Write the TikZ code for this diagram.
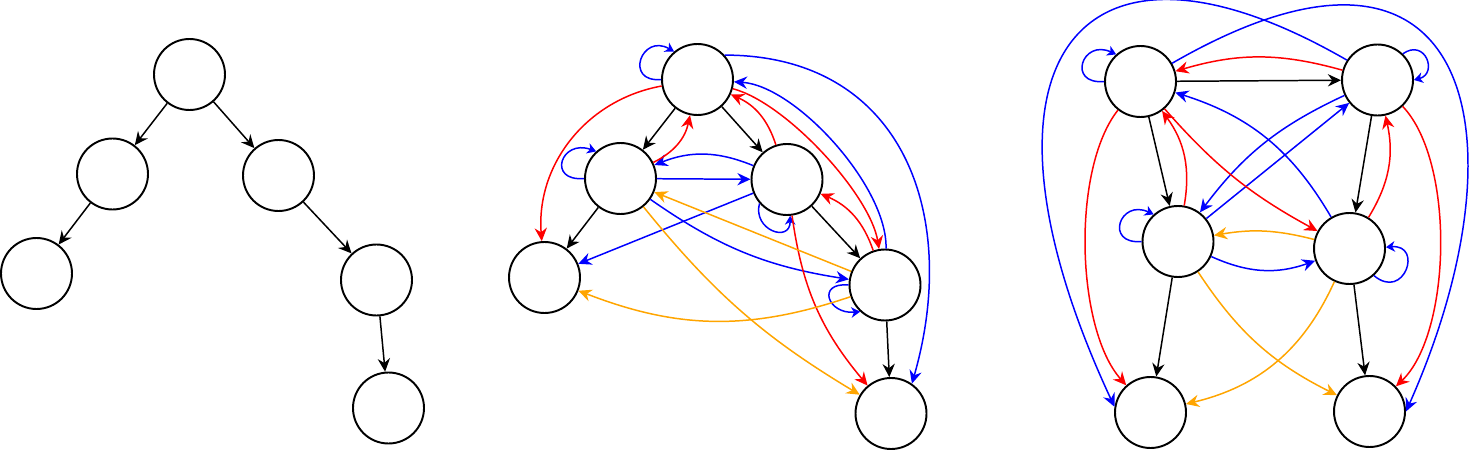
\documentclass[tikz,border=0pt]{standalone}
\usetikzlibrary{arrows.meta}

\definecolor{amber}{RGB}{255,165,0}

\begin{document}
\begin{tikzpicture}[
    vertex/.style={circle, draw, line width=1.1pt, minimum size=1.42cm, inner sep=0pt},
    link/.style={-{Stealth[length=7.5pt, width=7pt, inset=2.5pt]}, line width=0.85pt},
    selfloop/.style={-{Stealth[length=5pt, width=6pt, inset=1.5pt]}, line width=0.85pt, blue},
]

    \useasboundingbox (0,0) rectangle (29.42,9);

    %% Tree and the two graphs

    % Tree
    \begin{scope}
        % Vertices
        \node[vertex] (root) at (3.79,7.51) {};
        \node[vertex] (l) at (2.25,5.52) {};
        \node[vertex] (r) at (5.57,5.49) {};
        \node[vertex] (ll) at (0.73,3.53) {};
        \node[vertex] (rr) at (7.53,3.40) {};
        \node[vertex] (rrr) at (7.77,0.84) {};

        % Edges
        \draw[link] (root) -- (l);
        \draw[link] (root) -- (r);
        \draw[link] (l) -- (ll);
        \draw[link] (r) -- (rr);
        \draw[link] (rr) -- (rrr);
    \end{scope}

    % First graph
    \begin{scope}
        % Vertices
        \node[vertex] (ga) at (13.95,7.41) {};
        \node[vertex] (gb) at (12.41,5.43) {};
        \node[vertex] (gc) at (15.74,5.41) {};
        \node[vertex] (gd) at (10.89,3.45) {};
        \node[vertex] (ge) at (17.70,3.30) {};
        \node[vertex] (gf) at (17.82,0.73) {};

        % Tree edges
        \draw[link] (ga) -- (gb);
        \draw[link] (ga) -- (gc);
        \draw[link] (gb) -- (gd);
        \draw[link] (gc) -- (ge);
        \draw[link] (ge) -- (gf);

        % Self loops
        \draw[selfloop] (ga.180) .. controls +(185:0.75) and +(150:0.75) .. (ga.130);
        \draw[selfloop] (gb.180) .. controls +(185:0.75) and +(160:0.75) .. (gb.132);
        \draw[selfloop] (gc.221) .. controls +(255:0.55) and +(270:0.55) .. (gc.275);
        \draw[selfloop] (ge.180) .. controls +(175:0.65) and +(185:0.65) .. (ge.227);

        % Blue edges
        \draw[link, blue] (ga.42) to[out=0, in=74, looseness=1.2] (gf.55);
        \draw[link, blue] (ge) to[bend right=44, looseness=0.7] (ga);
        \draw[link, blue] (gb) -- (gc);
        \draw[link, blue] (gc) to[bend right=22] (gb);
        \draw[link, blue] (gc) -- (gd);
        \draw[link, blue] (gb) to[bend right=13] (ge);

        % Red edges
        \draw[link, red] (ga) to[bend right=42] (gd);
        \draw[link, red] (gb) to[bend right=26] (ga);
        \draw[link, red] (gc) to[bend right=24] (ga);
        \draw[link, red] (ga) to[bend left=33, looseness=0.65] (ge);
        \draw[link, red] (ge) to[bend right=24] (gc);
        \draw[link, red] (gc) to[bend right=16] (gf);

        % Orange edges
        \draw[link, amber] (ge) -- (gb);
        \draw[link, amber] (ge) to[bend left=20] (gd);
        \draw[link, amber] (gb) to[bend right=10] (gf);
    \end{scope}

    % Second graph
    \begin{scope}
        % Vertices
        \node[vertex] (ha) at (22.81,7.37) {};
        \node[vertex] (hb) at (27.55,7.40) {};
        \node[vertex] (hc) at (23.56,4.17) {};
        \node[vertex] (hd) at (26.99,4.03) {};
        \node[vertex] (he) at (23.01,0.75) {};
        \node[vertex] (hf) at (27.39,0.77) {};

        % Black edges
        \draw[link] (ha) -- (hb);
        \draw[link] (ha) -- (hc);
        \draw[link] (hb) -- (hd);
        \draw[link] (hc) -- (he);
        \draw[link] (hd) -- (hf);

        % Self loops
        \draw[selfloop] (ha.180) .. controls +(185:0.75) and +(155:0.75) .. (ha.132);
        \draw[selfloop] (hb.46) .. controls +(35:0.55) and +(15:0.5) .. (hb.0);
        \draw[selfloop] (hc.180) .. controls +(185:0.75) and +(155:0.75) .. (hc.132);
        \draw[selfloop] (hd.-48) .. controls +(-40:0.8) and +(5:0.75) .. (hd.2);

        % Blue edges
        \draw[link, blue] (hd) to[bend right=21] (ha);
        \draw[link, blue] (hb) to[bend right=14] (hc);
        \draw[link, blue] (hc) -- (hb);
        \draw[link, blue] (hc) to[bend right=22] (hd);
        \draw[link, blue] (hb.147) .. controls +(150:6.4) and +(115:7.4) .. (he.171);
        \draw[link, blue] (ha.30) .. controls +(30:7) and +(66:6) .. (hf.0);

        % Red edges
        \draw[link, red] (hb) to[bend right=16] (ha);
        \draw[link, red] (hc) to[bend right=23] (ha);
        \draw[link, red] (ha) to[bend right=10] (hd);
        \draw[link, red] (hd) to[bend right=22] (hb);
        \draw[link, red] (ha) to[bend right=40, looseness=0.7] (he);
        \draw[link, red] (hb) to[bend left=45, looseness=0.7] (hf);

        % Orange edges
        \draw[link, amber] (hd) to[bend right=12] (hc);
        \draw[link, amber] (hd) to[bend left=26] (he);
        \draw[link, amber] (hc) to[bend right=15] (hf);
    \end{scope}

\end{tikzpicture}
\end{document}
